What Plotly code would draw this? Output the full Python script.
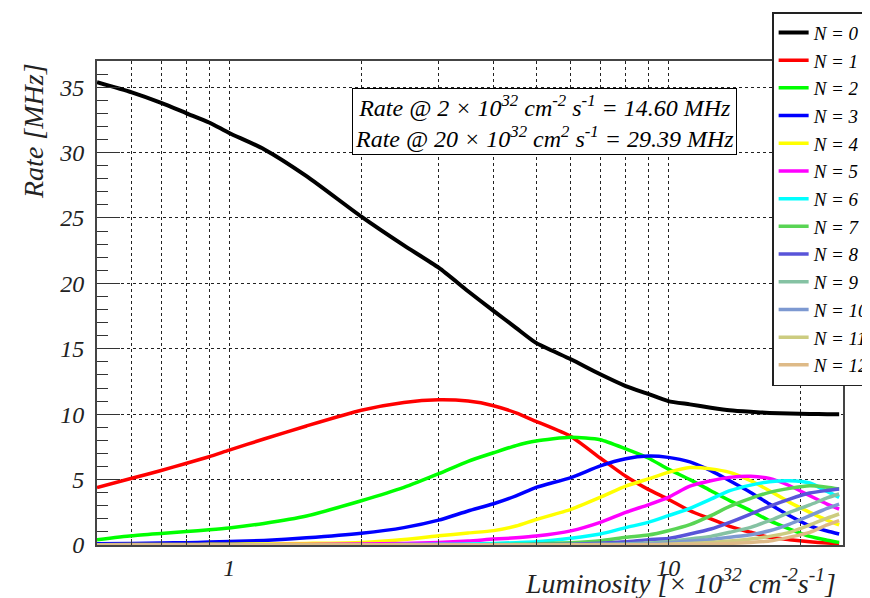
import math
import plotly.graph_objects as go

# Luminosity [x 10^32 cm^-2 s^-1]
lum = [0.5, 0.6, 0.7, 0.8, 0.9, 1.0, 1.2, 1.5, 2.0, 2.5, 3.0, 3.5, 4.0, 4.5, 5.0,
       6.0, 7.0, 8.0, 9.0, 10.0, 11.2, 12.5, 13.8, 15.4, 17.0, 18.9, 21.0, 23.0, 24.5]

# Rate [MHz] per multiplicity N
n0 = [35.38, 34.6, 33.8, 33.0, 32.3, 31.5, 30.26, 28.2, 25.1, 22.9, 21.2, 19.4, 17.9, 16.6, 15.45,
      14.2, 13.05, 12.15, 11.55, 11.0, 10.75, 10.5, 10.3, 10.18, 10.1, 10.05, 10.02, 10.0, 10.0]
n1 = [4.4, 5.1, 5.7, 6.25, 6.75, 7.25, 8.1, 9.1, 10.3, 10.9, 11.1, 11.0, 10.65, 10.1, 9.45,
      8.3, 6.65, 5.25, 4.25, 3.5, 2.62, 2.0, 1.43, 0.97, 0.59, 0.41, 0.25, 0.15, 0.1]
n2 = [0.4, 0.7, 0.88, 1.03, 1.16, 1.3, 1.65, 2.22, 3.38, 4.4, 5.45, 6.4, 7.05, 7.6, 7.95,
      8.23, 8.05, 7.35, 6.65, 5.8, 5.0, 4.15, 3.39, 2.62, 1.86, 1.22, 0.66, 0.37, 0.2]
n3 = [0.1, 0.12, 0.15, 0.18, 0.22, 0.26, 0.35, 0.55, 0.9, 1.33, 1.9, 2.6, 3.15, 3.75, 4.4,
      5.15, 6.05, 6.6, 6.8, 6.7, 6.35, 5.68, 4.91, 4.02, 3.13, 2.24, 1.47, 1.07, 0.84]
n4 = [0.02, 0.03, 0.03, 0.04, 0.05, 0.06, 0.08, 0.12, 0.2, 0.42, 0.7, 0.92, 1.1, 1.45, 1.95,
      2.72, 3.64, 4.5, 5.05, 5.55, 5.92, 5.82, 5.55, 4.91, 4.15, 3.26, 2.5, 1.9, 1.53]
n5 = [0.0, 0.0, 0.0, 0.0, 0.01, 0.01, 0.02, 0.04, 0.07, 0.12, 0.2, 0.3, 0.45, 0.55, 0.68,
      1.08, 1.73, 2.5, 3.07, 3.64, 4.5, 4.91, 5.17, 5.25, 5.09, 4.53, 3.77, 3.13, 2.75]
n6 = [0.0, 0.0, 0.0, 0.0, 0.0, 0.0, 0.0, 0.01, 0.02, 0.03, 0.05, 0.08, 0.12, 0.18, 0.24,
      0.52, 0.84, 1.33, 1.73, 2.24, 2.8, 3.5, 4.15, 4.58, 4.84, 4.91, 4.74, 4.1, 3.64]
n7 = [0.0, 0.0, 0.0, 0.0, 0.0, 0.0, 0.0, 0.0, 0.0, 0.01, 0.01, 0.02, 0.03, 0.05, 0.08,
      0.18, 0.33, 0.59, 0.76, 1.09, 1.55, 2.24, 2.96, 3.57, 4.02, 4.33, 4.53, 4.42, 4.28]
n8 = [0.0, 0.0, 0.0, 0.0, 0.0, 0.0, 0.0, 0.0, 0.0, 0.0, 0.0, 0.01, 0.01, 0.02, 0.03,
      0.06, 0.14, 0.25, 0.41, 0.5, 0.84, 1.22, 1.73, 2.37, 2.96, 3.51, 3.97, 4.17, 4.28]
n9 = [0.0, 0.0, 0.0, 0.0, 0.0, 0.0, 0.0, 0.0, 0.0, 0.0, 0.0, 0.0, 0.0, 0.01, 0.01,
      0.03, 0.05, 0.08, 0.15, 0.25, 0.46, 0.66, 0.97, 1.35, 1.86, 2.5, 3.06, 3.6, 3.9]
n10 = [0.0, 0.0, 0.0, 0.0, 0.0, 0.0, 0.0, 0.0, 0.0, 0.0, 0.0, 0.0, 0.0, 0.0, 0.01,
       0.01, 0.02, 0.04, 0.08, 0.15, 0.3, 0.42, 0.6, 0.79, 1.09, 1.6, 2.24, 2.8, 3.13]
n11 = [0.0, 0.0, 0.0, 0.0, 0.0, 0.0, 0.0, 0.0, 0.0, 0.0, 0.0, 0.0, 0.0, 0.0, 0.0,
       0.01, 0.01, 0.02, 0.03, 0.06, 0.12, 0.2, 0.3, 0.45, 0.66, 0.97, 1.53, 2.05, 2.37]
n12 = [0.0, 0.0, 0.0, 0.0, 0.0, 0.0, 0.0, 0.0, 0.0, 0.0, 0.0, 0.0, 0.0, 0.0, 0.0,
       0.0, 0.01, 0.01, 0.02, 0.03, 0.05, 0.08, 0.12, 0.2, 0.3, 0.6, 0.97, 1.53, 1.86]

series = [n0, n1, n2, n3, n4, n5, n6, n7, n8, n9, n10, n11, n12]
labels = ["N = 0", "N = 1", "N = 2", "N = 3", "N = 4", "N = 5", "N = 6",
          "N = 7", "N = 8", "N = 9", "N = 10", "N = 11", "N = 12"]
colors = ["#000000", "#ff0000", "#00ff00", "#0000ff", "#ffff00", "#ff00ff", "#00ffff",
          "#59d454", "#5954d9", "#85c2a3", "#7d99d1", "#cccc80", "#deba87"]

x_tick_vals = [0.6, 0.7, 0.8, 0.9, 1, 2, 3, 4, 5, 6, 7, 8, 9, 10, 20]
x_tick_text = ["", "", "", "", "1", "", "", "", "", "", "", "", "", "10", ""]

SERIF = "Liberation Serif"

fig = go.Figure()
for vals, lab, col in zip(series, labels, colors):
    fig.add_trace(go.Scatter(
        x=lum, y=vals, mode="lines", name=lab,
        line=dict(color=col, width=4 if lab == "N = 0" else 3.5,
                  shape="spline", smoothing=0.6),
    ))

# the page body has an 8px margin, so margins are reduced by 8px on left/top
fig.update_layout(
    width=870, height=598,
    margin=dict(l=89, r=35, t=53, b=61, autoexpand=False),
    paper_bgcolor="white", plot_bgcolor="white",
    showlegend=True,
    legend=dict(
        x=0.905, y=1.101, xanchor="left", yanchor="top",
        bgcolor="white", bordercolor="#222", borderwidth=1.5,
        font=dict(family=SERIF, size=19, style="italic", color="black"),
        tracegroupgap=0, itemwidth=30, maxheight=430,
    ),
    xaxis=dict(
        type="log", range=[math.log10(0.5), math.log10(25)],
        tickvals=x_tick_vals, ticktext=x_tick_text,
        ticks="inside", ticklen=6, tickcolor="#333", tickwidth=1,
        showgrid=True, gridcolor="#222", griddash="dot", gridwidth=1,
        showline=True, mirror=True, linecolor="#444", linewidth=2,
        zeroline=False,
        tickfont=dict(family=SERIF, size=24, style="italic", color="#222"),
        ticklabelstandoff=0,
    ),
    yaxis=dict(
        range=[0, 37], tick0=0, dtick=5,
        ticks="inside", ticklen=23, tickcolor="#333", tickwidth=1,
        minor=dict(dtick=1, ticks="inside", ticklen=11, tickcolor="#333", showgrid=False),
        showgrid=True, gridcolor="#222", griddash="dot", gridwidth=1,
        showline=True, mirror=True, linecolor="#444", linewidth=2,
        zeroline=False,
        tickfont=dict(family=SERIF, size=24, style="italic", color="#222"),
        ticklabelstandoff=6,
    ),
)

fig.add_annotation(
    xref="paper", yref="paper", x=0.6005, y=0.876, xanchor="center", yanchor="middle",
    text=("Rate @ 2 × 10<sup>32</sup> cm<sup>-2</sup> s<sup>-1</sup> = 14.60 MHz<br>"
          "Rate @ 20 × 10<sup>32</sup> cm<sup>2</sup> s<sup>-1</sup> = 29.39 MHz"),
    showarrow=False, align="center",
    font=dict(family=SERIF, size=24, style="italic", color="black"),
    bgcolor="white", bordercolor="black", borderwidth=1, borderpad=2,
)

fig.add_annotation(
    xref="paper", yref="paper", x=-0.0858, y=1.0, xanchor="center", yanchor="top",
    text="Rate [MHz]", textangle=-90, showarrow=False,
    font=dict(family=SERIF, size=28, style="italic", color="#222"),
)

fig.add_annotation(
    xref="paper", yref="paper", x=0.9933, y=-0.0764, xanchor="right", yanchor="middle",
    text="Luminosity [× 10<sup>32</sup> cm<sup>-2</sup>s<sup>-1</sup>]", showarrow=False,
    font=dict(family=SERIF, size=28, style="italic", color="#222"),
)

fig.write_html("out.html")
